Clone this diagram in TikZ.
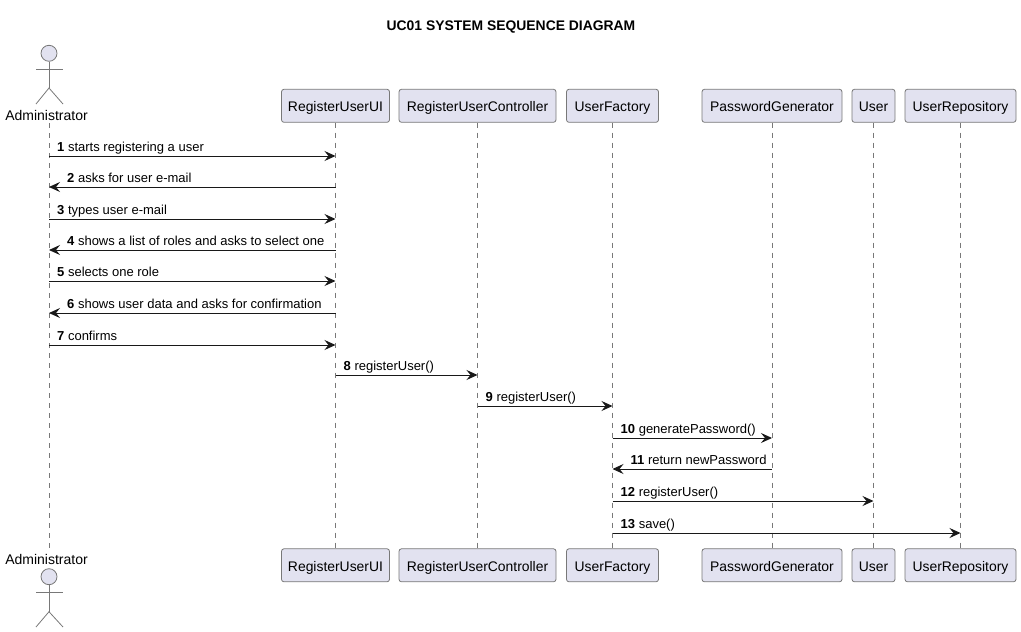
\documentclass[tikz,border=0pt]{standalone}
\usepackage{fontspec}
\setmainfont{Liberation Sans}
\usetikzlibrary{arrows.meta}
\definecolor{boxfill}{HTML}{E2E2F0}
\definecolor{boxline}{HTML}{787878}
\definecolor{msgline}{HTML}{181818}
\tikzset{
  party/.style={draw=boxline,fill=boxfill,line width=0.8pt,rounded corners=2.5pt,minimum height=33pt,inner sep=0pt,text height=12.5pt,text depth=1pt,font=\fontsize{13.9}{16}\selectfont},
  actorhead/.style={circle,draw=boxline,fill=boxfill,line width=0.8pt,minimum size=16pt,inner sep=0pt},
  actorname/.style={anchor=base,inner sep=0pt,font=\fontsize{14}{16}\selectfont},
  lifeline/.style={draw=boxline,line width=0.7pt,dash pattern=on 5pt off 5pt},
  msg/.style={draw=msgline,line width=1pt,-{Stealth[length=11pt,width=10pt,inset=4pt]}},
  msglabel/.style={anchor=base west,inner sep=0pt,font=\fontsize{13}{15}\selectfont}
}
\begin{document}
\begin{tikzpicture}[x=1pt,y=-1pt]
\useasboundingbox (0,0) rectangle (1021,632);
\node [anchor=base,inner sep=0pt,font=\fontsize{13.9}{16}\selectfont\bfseries] (title) at (511,30) {UC01 SYSTEM SEQUENCE DIAGRAM};
% participants, top and bottom
\foreach \id/\x/\w/\name in {ui/335.5/108/RegisterUserUI,ctrl/477.5/157/RegisterUserController,fact/612.5/92/UserFactory,pwd/772/140/PasswordGenerator,usr/873.5/43/User,repo/960.5/111/UserRepository} {
  \node [party,minimum width=\w pt] (\id) at (\x,105.8) {\name};
  \node [party,minimum width=\w pt] (\id b) at (\x,565.3) {\name};
  \draw [lifeline] (\id) -- (\id b);
}
% actor at the top
\node [actorhead] (adminhead) at (49,53.3) {};
\coordinate (adminneck) at (49,88);
\coordinate (armtl) at (36,69.3);
\coordinate (armtr) at (63,69.3);
\coordinate (legtl) at (36,104);
\coordinate (legtr) at (63,104);
\draw [boxline,line width=0.8pt] (adminhead) -- (adminneck);
\draw [boxline,line width=0.8pt] (armtl) -- (armtr);
\draw [boxline,line width=0.8pt] (legtl) -- (adminneck) -- (legtr);
\node [actorname] (admintext) at (46.5,120) {Administrator};
% actor at the bottom
\node [actorname] (admintextb) at (46.5,564) {Administrator};
\node [actorhead] (adminheadb) at (49,576.7) {};
\coordinate (adminneckb) at (49,611.7);
\coordinate (armbl) at (36,592);
\coordinate (armbr) at (63,592);
\coordinate (legbl) at (36,627);
\coordinate (legbr) at (63,627);
\draw [boxline,line width=0.8pt] (adminheadb) -- (adminneckb);
\draw [boxline,line width=0.8pt] (armbl) -- (armbr);
\draw [boxline,line width=0.8pt] (legbl) -- (adminneckb) -- (legbr);
% lifeline of the actor
\coordinate (admin) at (49,123);
\coordinate (adminb) at (49,548);
\draw [lifeline] (admin) -- (adminb);
% messages to the right
\foreach \n/\y/\from/\to/\txt in {1/156/admin/ui/starts registering a user,3/219/admin/ui/types user e-mail,5/281/admin/ui/selects one role,7/345/admin/ui/confirms,8/375/ui/ctrl/registerUser(),9/406/ctrl/fact/registerUser(),10/438/fact/pwd/generatePassword(),12/501/fact/usr/registerUser(),13/533/fact/repo/save()} {
  \coordinate (s\n) at (\from |- 0,\y);
  \coordinate (e\n) at (\to |- 0,\y);
  \draw [msg] (s\n) -- (e\n);
  \node [msglabel] (t\n) at ([xshift=8pt,yshift=4.5pt]s\n) {\textbf{\n} \txt};
}
% messages to the left
\foreach \n/\y/\from/\to/\txt in {2/187/ui/admin/asks for user e-mail,4/250/ui/admin/shows a list of roles and asks to select one,6/313/ui/admin/shows user data and asks for confirmation,11/469/pwd/fact/return newPassword} {
  \coordinate (s\n) at (\from |- 0,\y);
  \coordinate (e\n) at (\to |- 0,\y);
  \draw [msg] (s\n) -- (e\n);
  \node [msglabel] (t\n) at ([xshift=18pt,yshift=4.5pt]e\n) {\textbf{\n} \txt};
}
\end{tikzpicture}
\end{document}
